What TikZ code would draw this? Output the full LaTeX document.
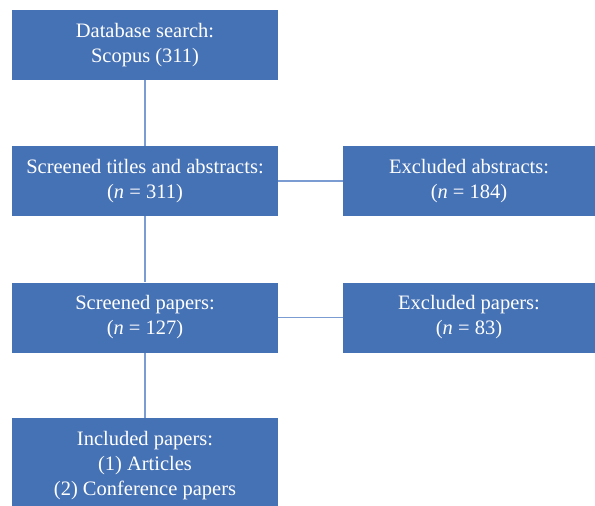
\documentclass[tikz,border=0pt]{standalone}
\usepackage{fontspec}
\setmainfont{Liberation Serif}
\definecolor{boxblue}{HTML}{4571B5}
\definecolor{lineblue}{HTML}{7A9CD3}

\begin{document}
\begin{tikzpicture}[
    x = 1pt, y = -1pt,
    every node/.style = {font = \fontsize{20.5}{25}\selectfont, text = white, align = center},
    stage/.style = {rectangle, fill = boxblue, inner sep = 0pt, minimum width = 266pt, minimum height = 70pt},
    excl/.style = {stage, minimum width = 252pt},
    link/.style = {draw = lineblue, line width = 1.6pt}]

\useasboundingbox (0,0) rectangle (595,506);

\node[stage] (search) at (145,45) {Database search:\\Scopus (311)};
\node[stage] (titles) at (145,181) {Screened titles and abstracts:\\(\textit{n} = 311)};
\node[excl] (exabs) at (469,181) {Excluded abstracts:\\(\textit{n} = 184)};
\node[stage] (papers) at (145,317.5) {Screened papers:\\(\textit{n} = 127)};
\node[excl] (expap) at (469,317.5) {Excluded papers:\\(\textit{n} = 83)};
\node[stage, minimum height = 96pt] (incl) at (145,466) {Included papers:\\(1) Articles\\(2) Conference papers};

\draw[link] (search) -- (titles)
	  (titles) -- (papers)
	  (papers) -- (incl);
\draw[link] (titles) -- (exabs)
	  (papers) -- (expap);
\end{tikzpicture}
\end{document}
